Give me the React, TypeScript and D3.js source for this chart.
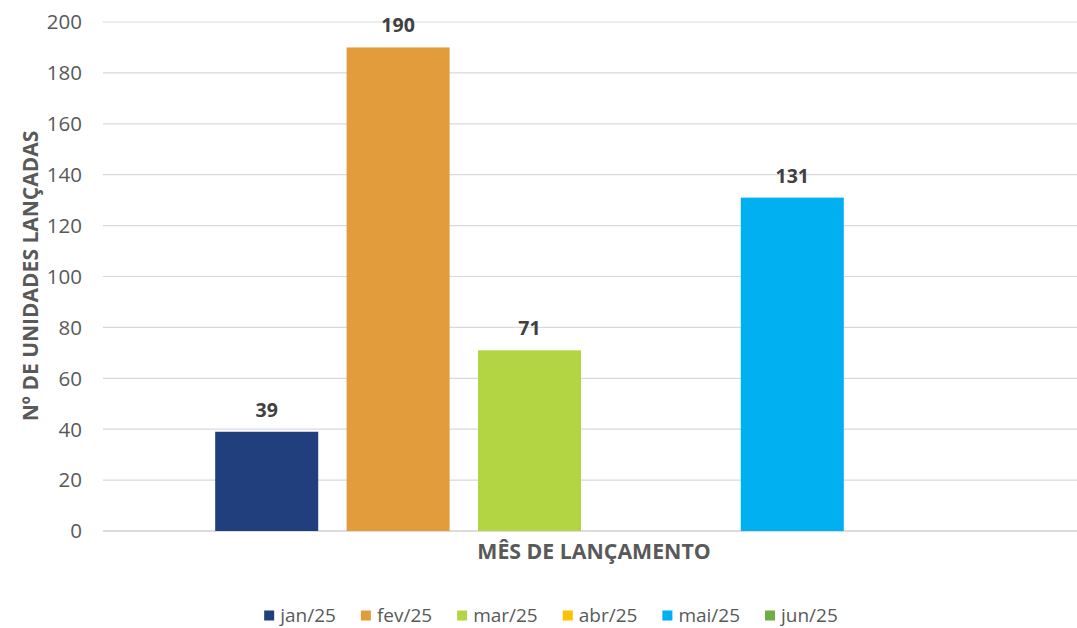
import React from "react";
import * as d3 from "d3";

const months = ["jan/25", "fev/25", "mar/25", "abr/25", "mai/25", "jun/25"];
const values = [39, 190, 71, 0, 131, 0];
const colors = ["#203F7C", "#E29C3C", "#B4D543", "#FFC000", "#00B0F0", "#70AD47"];
const yTicks = [0, 20, 40, 60, 80, 100, 120, 140, 160, 180, 200];
const yTitle = "Nº DE UNIDADES LANÇADAS";
const xTitle = "MÊS DE LANÇAMENTO";

const W = 1077;
const H = 628;
const FONT = "'Open Sans', 'Noto Sans', sans-serif";

function measure(text: string, font: string): number {
  if (typeof document === "undefined") return text.length * 9;
  const c = document.createElement("canvas");
  const ctx = c.getContext("2d");
  if (!ctx) return text.length * 9;
  ctx.font = font;
  return ctx.measureText(text).width;
}

export default function App() {
  const plotLeft = 103;
  const plotRight = 1086;
  const y = d3.scaleLinear().domain([0, 200]).range([531, 22]);
  const x = d3
    .scaleBand<string>()
    .domain(months)
    .range([201, 989.4])
    .paddingInner(0.216)
    .paddingOuter(0.108);

  // legend layout
  const legendSize = 19;
  const legendFont = `${legendSize}px ${FONT}`;
  const sq = 10;
  const gapSqText = 6;
  const gapItems = 25;
  const widths = months.map((m) => measure(m, legendFont));
  const total = widths.reduce((a, w) => a + sq + gapSqText + w, 0) + gapItems * (months.length - 1);
  const legendCenter = 551;
  let cursor = legendCenter - total / 2;
  const legendItems = months.map((m, i) => {
    const start = cursor;
    cursor += sq + gapSqText + widths[i] + gapItems;
    return { m, start, color: colors[i] };
  });

  return (
    <svg
      width={W}
      height={H}
      style={{ position: "absolute", left: 0, top: 0, background: "#fff" }}
      fontFamily={FONT}
    >
      <rect x={0} y={0} width={W} height={H} fill="#fff" />
      {/* gridlines */}
      {yTicks.map((t) => (
        <line
          key={t}
          x1={plotLeft}
          x2={plotRight}
          y1={y(t)}
          y2={y(t)}
          stroke={t === 0 ? "#D0D0D0" : "#D9D9D9"}
          strokeWidth={t === 0 ? 1.5 : 1.2}
        />
      ))}
      {/* y tick labels */}
      {yTicks.map((t) => (
        <text
          key={"l" + t}
          x={82}
          y={y(t)}
          dy="0.36em"
          textAnchor="end"
          fontSize={20.5}
          fill="#595959"
        >
          {t}
        </text>
      ))}
      {/* bars */}
      {months.map((m, i) =>
        values[i] > 0 ? (
          <rect
            key={m}
            x={x(m)!}
            y={y(values[i])}
            width={x.bandwidth()}
            height={y(0) - y(values[i])}
            fill={colors[i]}
          />
        ) : null
      )}
      {/* data labels */}
      {months.map((m, i) =>
        values[i] > 0 ? (
          <text
            key={"d" + m}
            x={x(m)! + x.bandwidth() / 2}
            y={y(values[i]) - 15}
            textAnchor="middle"
            fontSize={19.5}
            fontWeight={700}
            fill="#404040"
          >
            {values[i]}
          </text>
        ) : null
      )}
      {/* axis titles */}
      <text
        transform={`translate(38, 276) rotate(-90)`}
        textAnchor="middle"
        fontSize={21}
        fontWeight={700}
        fill="#595959"
      >
        {yTitle}
      </text>
      <text x={594} y={558.5} textAnchor="middle" fontSize={21.3} fontWeight={700} fill="#595959">
        {xTitle}
      </text>
      {/* legend */}
      {legendItems.map((it) => (
        <g key={"lg" + it.m}>
          <rect x={it.start} y={610.5} width={sq} height={sq} fill={it.color} />
          <text x={it.start + sq + gapSqText} y={622} fontSize={legendSize} fill="#595959">
            {it.m}
          </text>
        </g>
      ))}
    </svg>
  );
}
